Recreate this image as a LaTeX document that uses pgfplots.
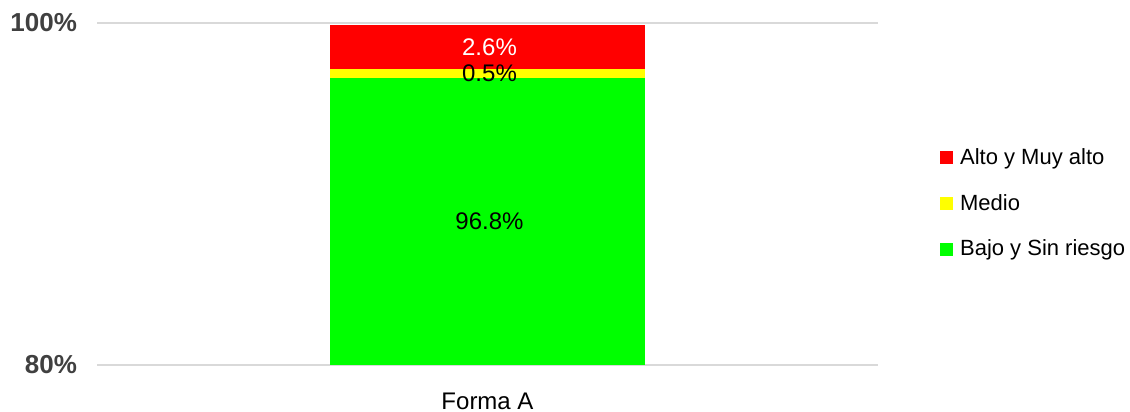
\documentclass[border=0pt]{standalone}
\usepackage{pgfplots}
\pgfplotsset{compat=1.18}
\usepackage{fontspec}
\setmainfont{Liberation Sans}
\definecolor{riskred}{HTML}{FF0000}
\definecolor{riskyellow}{HTML}{FFFF00}
\definecolor{riskgreen}{HTML}{00FF00}
\definecolor{gridgray}{HTML}{D9D9D9}
\definecolor{ticktext}{HTML}{404040}

\begin{document}
\begin{tikzpicture}
\begin{axis}[
  scale only axis,
  anchor=south west,
  at={(0pt,0pt)},
  width=390.5pt,
  height=171pt,
  ybar stacked,
  bar width=157.5pt,
  xmin=-0.5, xmax=0.5,
  ymin=80, ymax=100,
  xtick={0},
  xticklabels={Forma A},
  ytick={80,100},
  yticklabels={80\%,100\%},
  ymajorgrids,
  major grid style={draw=gridgray, line width=1pt},
  axis line style={draw=none},
  major tick length=0pt,
  x tick label style={font=\fontsize{12}{14}\selectfont, text=black, yshift=-10.5pt},
  y tick label style={font=\fontsize{13}{15}\selectfont\bfseries, text=ticktext, xshift=-6.5pt},
  /pgf/number format/assume math mode=true,
  legend style={
    at={(1.079,0.472)}, anchor=west, draw=none, inner sep=0pt,
    font=\fontsize{11}{13}\selectfont,
    row sep=9.5pt,
    /tikz/every odd column/.append style={column sep=1.5pt},
  },
  legend cell align=left,
  reverse legend,
]
\addplot[fill=riskgreen, draw=none, area legend,
  legend image code/.code={\fill[riskgreen] (0pt,-3.25pt) rectangle (6.5pt,3.25pt);}]
  coordinates {(0,96.8)};
\addlegendentry{Bajo y Sin riesgo}
\addplot[fill=riskyellow, draw=none, area legend,
  legend image code/.code={\fill[riskyellow] (0pt,-3.25pt) rectangle (6.5pt,3.25pt);}]
  coordinates {(0,0.5)};
\addlegendentry{Medio}
\addplot[fill=riskred, draw=none, area legend,
  legend image code/.code={\fill[riskred] (0pt,-3.25pt) rectangle (6.5pt,3.25pt);}]
  coordinates {(0,2.6)};
\addlegendentry{Alto y Muy alto}
\coordinate (labred) at (axis cs:0,98.6);
\coordinate (labyel) at (axis cs:0,97.05);
\coordinate (labgrn) at (axis cs:0,88.4);
\end{axis}
\node[font=\fontsize{12}{14}\selectfont, text=white, xshift=1pt] at (labred) {2.6\%};
\node[font=\fontsize{12}{14}\selectfont, xshift=1pt] at (labyel) {0.5\%};
\node[font=\fontsize{12}{14}\selectfont, xshift=1pt] at (labgrn) {96.8\%};
\pgfresetboundingbox
\path[use as bounding box] (-48.5pt,-23.5pt) rectangle (516.5pt,182.5pt);
\end{tikzpicture}
\end{document}
